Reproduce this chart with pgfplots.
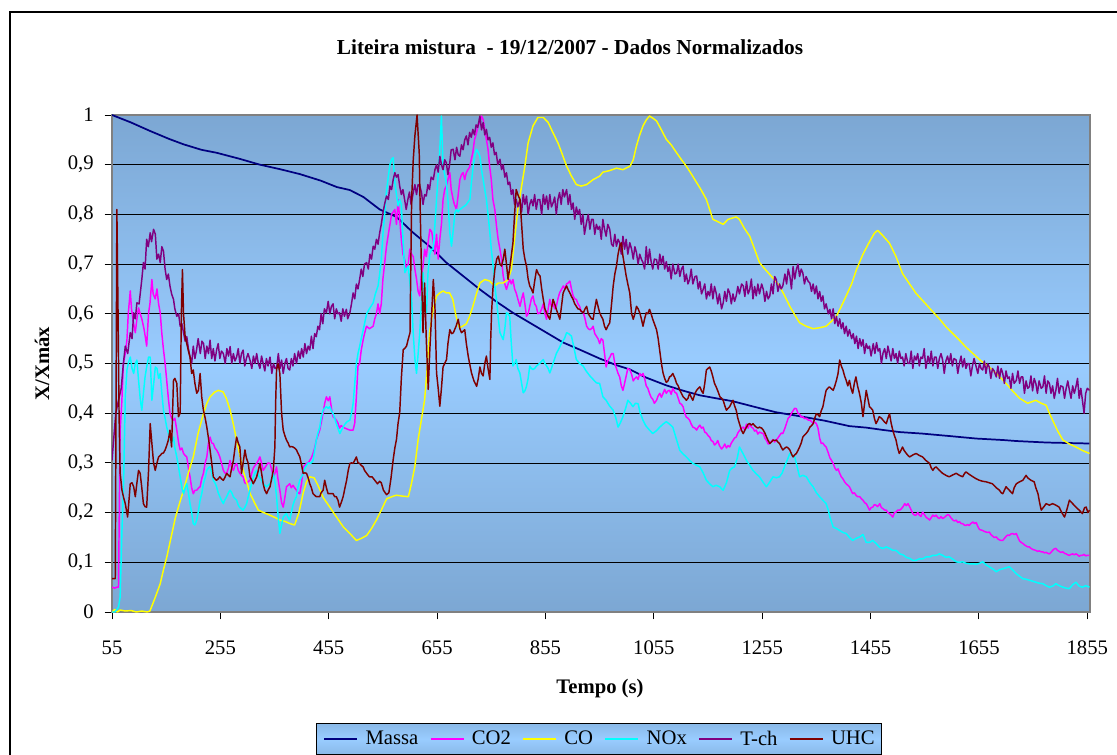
\documentclass[border=0pt]{standalone}
\usepackage{fontspec}
\setmainfont{Liberation Serif}
\usepackage{pgfplots}
\pgfplotsset{compat=1.18}

\definecolor{cMassa}{RGB}{0,0,128}
\definecolor{cCO2}{RGB}{255,0,255}
\definecolor{cCO}{RGB}{255,255,0}
\definecolor{cNOx}{RGB}{0,255,255}
\definecolor{cTch}{RGB}{128,0,128}
\definecolor{cUHC}{RGB}{128,0,0}
\definecolor{bgdark}{RGB}{124,167,211}
\definecolor{bglight}{RGB}{153,204,255}
\definecolor{lgdark}{RGB}{138,185,232}

\begin{document}
\begin{tikzpicture}
\useasboundingbox (0,0) rectangle (837.75pt,-566.25pt);
\begin{axis}[
  at={(84pt,-459pt)}, anchor=south west,
  scale only axis, width=733.5pt, height=372.75pt,
  xmin=55, xmax=1860, ymin=0, ymax=1,
  xtick={55,255,455,655,855,1055,1255,1455,1655,1855},
  xticklabels={55,255,455,655,855,1055,1255,1455,1655,1855},
  ytick={0,0.1,0.2,0.3,0.4,0.5,0.6,0.7,0.8,0.9,1},
  yticklabels={0,{0,1},{0,2},{0,3},{0,4},{0,5},{0,6},{0,7},{0,8},{0,9},1},
  /pgf/number format/assume math mode=true,
  ymajorgrids, major grid style={black, line width=0.6pt},
  axis background/.style={shade, top color=bgdark, bottom color=bgdark, middle color=bglight},
  axis line style={draw=gray, line width=1.5pt},
  tick align=outside, tick pos=left, major tick length=5.5pt,
  tick style={black, line width=0.7pt},
  tick label style={font=\fontsize{15.5}{18}\selectfont},
  xticklabel style={anchor=north, inner sep=0pt, yshift=-16pt},
  yticklabel style={anchor=east, inner sep=0pt, xshift=-8pt},
  title={Liteira mistura\ \ - 19/12/2007 - Dados Normalizados},
  title style={at={(0.4683,1.1066)}, anchor=base, font=\fontsize{16}{19}\selectfont\bfseries},
  xlabel={Tempo (s)},
  xlabel style={at={(0.499,-0.163)}, anchor=base, font=\fontsize{15.5}{18}\selectfont\bfseries},
  ylabel={X/Xmáx},
  ylabel style={at={(-0.0716,0.5)}, anchor=center, font=\fontsize{15.5}{18}\selectfont\bfseries},
  legend columns=6,
  legend style={at={(0.498,-0.2555)}, anchor=center, draw=black, line width=0.6pt,
    top color=lgdark, bottom color=lgdark, middle color=bglight,
    font=\fontsize{15.5}{18}\selectfont, inner xsep=5pt, inner ysep=4pt,
    nodes={inner xsep=0pt, inner ysep=1.5pt},
    /tikz/every even column/.append style={column sep=8.6pt},
    /tikz/every odd column/.append style={column sep=5.7pt}},
  legend image code/.code={\draw[#1, line width=1.1pt] (0pt,0pt) -- (24.75pt,0pt);},
  every axis plot/.append style={line width=1.1pt, line join=round},
]
% Massa
\addplot[cMassa, line width=1.3pt] coordinates {
(55,1.0)(90,0.985)(125,0.968)(160,0.952)(187,0.941)(220,0.93)(248,0.924)(290,0.912)(328,0.9)(365,0.891)
(402,0.881)(440,0.868)(470,0.855)(494,0.849)(519,0.835)(549,0.81)(580,0.795)(611,0.763)(642,0.735)(672,0.703)
(703,0.676)(734,0.649)(765,0.624)(795,0.602)(826,0.582)(857,0.562)(888,0.542)(918,0.528)(955,0.51)(985,0.497)
(1011,0.488)(1040,0.472)(1078,0.456)(1110,0.445)(1140,0.436)(1170,0.43)(1201,0.424)(1240,0.413)(1280,0.402)(1324,0.394)
(1370,0.385)(1416,0.374)(1447,0.371)(1480,0.366)(1509,0.362)(1550,0.359)(1601,0.354)(1650,0.349)(1700,0.346)(1724,0.344)
(1780,0.341)(1820,0.34)(1859,0.339)
};
\addlegendentry{Massa}
% CO2
\addplot[cCO2] coordinates {
(55,0.05)(60,0.048)(64,0.05)(67,0.05)(70,0.366)(73,0.42)(76,0.5)(79.5,0.52)(82.6,0.548)(85,0.6)(88.7,0.646)(91,0.61)(95,0.58)(98,0.562)(101,0.59)(104,0.612)(107,0.6)(110,0.59)(114,0.57)(117,0.55)
(119,0.535)(122.5,0.602)(125,0.62)(128.6,0.669)(131,0.64)(134.8,0.63)(138,0.65)(141,0.62)(144,0.602)(147,0.56)(150,0.528)(153,0.5)(156,0.466)(159,0.43)(162,0.40)(165,0.39)(168.5,0.386)(171,0.39)(174.6,0.366)(178,0.34)
(180.8,0.326)(184,0.33)(187,0.319)(190,0.315)(193,0.312)(196,0.29)(199,0.272)(202,0.25)(205,0.238)(208,0.245)(211.4,0.245)(215,0.25)(217.6,0.252)(221,0.27)(223.7,0.279)(227,0.3)(230,0.312)(233,0.34)(236,0.352)(239,0.34)
(242,0.339)(245,0.33)(248,0.326)(251,0.32)(254,0.312)(257,0.3)(260.5,0.285)(263,0.28)(266.7,0.279)(270,0.29)(272.8,0.305)(276,0.29)(279,0.285)(282,0.295)(285,0.299)(288,0.285)(291,0.279)(294,0.275)(297,0.272)(300,0.26)
(303.5,0.258)(306,0.262)(309.6,0.265)(313,0.28)(316,0.29)(319,0.295)(322,0.299)(325,0.305)(328,0.312)(331,0.3)(334,0.285)(337,0.29)(340,0.295)(343,0.3)(346.6,0.299)(350,0.285)(352.7,0.272)(356,0.28)(358.7,0.292)(361,0.27)
(364.8,0.245)(368,0.22)(371,0.211)(374,0.23)(377,0.252)(380,0.255)(383,0.258)(386,0.25)(389,0.255)(392,0.25)(395.5,0.245)(398,0.24)(401.6,0.238)(405,0.26)(407.8,0.292)(411,0.295)(414,0.299)(417,0.3)(420,0.305)(423,0.31)
(426,0.319)(429,0.33)(432,0.346)(435,0.355)(438.4,0.366)(441,0.38)(444.6,0.40)(447.6,0.42)(450.7,0.433)(454,0.425)(457,0.433)(460,0.41)(463,0.393)(466,0.39)(469,0.386)(472,0.38)(475,0.37)(478,0.375)(481.6,0.372)(485,0.37)
(489,0.368)(494,0.366)(500,0.366)(503,0.38)(506,0.433)(509,0.495)(512,0.5)(515,0.527)(518.6,0.548)(521,0.56)(524.7,0.575)(530,0.57)(537,0.575)(540,0.59)(543,0.6)(546,0.62)(549,0.6)(552,0.62)(555,0.67)(558,0.7)
(561.6,0.736)(565,0.76)(568,0.78)(571,0.8)(574,0.805)(577,0.81)(580,0.78)(583,0.83)(586,0.79)(589,0.75)(592,0.72)(595,0.71)(598.5,0.69)(601.7,0.7)(604.7,0.73)(608,0.72)(611,0.715)(614,0.69)(617,0.67)(620,0.645)
(623,0.636)(626,0.68)(629,0.695)(632,0.73)(635,0.715)(638,0.74)(641.6,0.77)(645,0.765)(648,0.745)(651,0.72)(654,0.76)(657,0.71)(660,0.75)(663,0.78)(666,0.83)(669,0.85)(672,0.857)(675,0.87)(678.5,0.884)(681,0.85)
(684.6,0.83)(687,0.82)(690.7,0.81)(694,0.84)(697,0.87)(700,0.88)(703,0.884)(706,0.87)(709,0.884)(712,0.89)(715,0.895)(718,0.91)(721,0.925)(724,0.95)(727.7,0.964)(731,0.98)(734,0.985)(737,0.998)(740,0.991)(743,0.971)
(746,0.951)(749,0.931)(752,0.897)(755,0.87)(758,0.83)(761.5,0.81)(764.6,0.777)(767.6,0.75)(771,0.73)(774,0.71)(777,0.676)(780,0.66)(783,0.649)(786,0.66)(789,0.669)(792,0.66)(795,0.669)(798,0.65)(801,0.642)(804,0.63)
(808,0.615)(811,0.63)(814,0.642)(817,0.62)(820,0.595)(823,0.6)(826,0.615)(829,0.63)(832,0.636)(835,0.62)(838,0.615)(841,0.6)(845,0.602)(848,0.61)(851,0.62)(854,0.6)(857,0.589)(860,0.61)(863,0.629)(866,0.615)
(869,0.62)(872,0.61)(875,0.615)(878,0.63)(881,0.642)(884,0.648)(888,0.656)(891,0.65)(894,0.66)(897,0.662)(900,0.666)(903,0.65)(906,0.636)(909,0.63)(912,0.629)(915,0.62)(918,0.615)(921,0.605)(925,0.602)(928,0.59)
(931,0.575)(934,0.57)(937,0.568)(940,0.57)(943,0.575)(946,0.56)(949,0.555)(952,0.55)
(955,0.54)(958,0.55)(961,0.547)(964,0.52)(967,0.493)(970,0.505)(974,0.513)(977,0.52)(980,0.52)(983,0.5)(986,0.49)(989,0.48)(992,0.473)(995,0.455)(998,0.446)(1001,0.46)(1004,0.475)(1007,0.49)(1011,0.487)(1014,0.478)
(1017,0.465)(1020,0.47)(1023,0.473)(1026,0.468)(1029,0.48)(1032,0.475)(1035,0.48)(1038,0.47)(1041,0.455)(1044,0.45)(1047,0.44)(1050,0.432)(1053,0.428)(1056,0.42)(1060,0.426)(1063,0.435)(1066,0.44)(1069,0.432)(1072,0.44)(1075,0.448)
(1078,0.44)(1081,0.445)(1084,0.446)(1087,0.438)(1090,0.45)(1094,0.442)(1097,0.44)(1100,0.43)(1103,0.42)(1106,0.418)(1109,0.413)(1112,0.40)(1115,0.392)(1118,0.39)(1121,0.386)(1124,0.378)(1127,0.372)(1131,0.37)(1134,0.366)(1137,0.372)
(1140,0.376)(1143,0.37)(1146,0.372)(1149,0.362)(1152,0.36)(1155,0.355)(1158,0.352)(1161,0.345)(1164,0.343)(1167,0.336)(1170,0.339)(1173,0.345)(1176,0.335)(1180,0.328)(1183,0.332)(1186,0.338)(1189,0.33)(1192,0.335)(1195,0.332)(1198,0.34)
(1201,0.345)(1204,0.35)(1207,0.352)(1210,0.36)(1213,0.365)(1217,0.37)(1220,0.372)(1223,0.366)(1226,0.378)(1229,0.37)(1232,0.379)(1235,0.372)(1238,0.37)(1241,0.364)(1244,0.366)(1247,0.358)(1250,0.362)(1254,0.36)(1257,0.359)(1260,0.35)
(1263,0.345)(1266,0.338)(1269,0.339)(1272,0.343)(1275,0.347)(1278,0.342)(1281,0.346)(1284,0.35)(1287,0.355)(1290,0.36)(1293,0.359)(1297,0.37)(1300,0.38)(1303,0.39)(1306,0.393)(1309,0.40)(1312,0.405)(1315,0.41)(1318,0.409)(1321,0.4)
(1324,0.398)(1327,0.392)(1330,0.393)(1333,0.389)(1336,0.39)(1340,0.386)(1343,0.386)(1346,0.383)(1349,0.38)(1352,0.382)(1355,0.379)(1358,0.37)(1361,0.35)(1364,0.339)(1367,0.34)(1370,0.335)(1373,0.332)(1377,0.32)(1380,0.31)(1383,0.305)
(1386,0.299)(1389,0.29)(1392,0.285)(1395,0.288)(1398,0.279)(1401,0.272)(1404,0.268)(1407,0.262)(1410,0.258)(1413,0.255)(1416,0.252)(1419,0.245)(1422,0.238)(1425,0.24)(1428,0.235)(1431,0.232)(1435,0.232)(1438,0.228)(1441,0.225)(1444,0.22)
(1447,0.218)(1450,0.212)(1453,0.205)(1456,0.21)(1459,0.211)(1462,0.216)(1465,0.215)(1468,0.212)(1472,0.218)(1475,0.21)(1478,0.208)(1481,0.205)(1484,0.205)(1487,0.2)(1490,0.198)(1493,0.195)(1496,0.191)(1499,0.2)(1502,0.201)(1505,0.205)
(1509,0.205)(1512,0.208)(1515,0.212)(1518,0.218)(1521,0.214)(1524,0.218)(1527,0.212)(1530,0.205)(1533,0.198)(1536,0.195)(1539,0.195)(1542,0.2)(1545,0.195)(1548,0.192)(1551,0.201)(1555,0.195)(1558,0.19)(1561,0.188)(1564,0.185)(1567,0.19)
(1570,0.195)(1573,0.192)(1576,0.195)(1579,0.19)(1582,0.188)(1585,0.192)(1588,0.188)(1591,0.19)(1594,0.193)(1597,0.196)(1600,0.195)(1603,0.19)(1607,0.185)(1610,0.183)(1613,0.185)(1616,0.18)(1619,0.182)(1622,0.178)(1625,0.178)(1628,0.175)
(1631,0.174)(1634,0.176)(1637,0.174)(1640,0.178)(1644,0.181)(1647,0.178)(1650,0.18)(1653,0.172)(1656,0.166)(1659,0.165)(1662,0.164)(1665,0.162)(1668,0.161)(1671,0.16)(1674,0.161)(1677,0.156)(1680,0.153)(1683,0.15)(1687,0.151)(1690,0.147)
(1693,0.145)(1696,0.144)(1699,0.144)(1702,0.148)(1705,0.152)(1708,0.155)(1711,0.154)(1714,0.157)(1717,0.158)(1720,0.156)(1724,0.158)(1727,0.15)(1730,0.143)(1733,0.14)(1736,0.138)(1739,0.135)(1742,0.133)(1745,0.131)(1748,0.131)(1751,0.128)
(1754,0.126)(1757,0.125)(1760,0.124)(1763,0.122)(1766,0.123)(1770,0.121)(1773,0.121)(1776,0.119)(1779,0.12)(1782,0.118)(1785,0.117)(1788,0.12)(1791,0.124)(1794,0.127)(1797,0.128)(1800,0.124)(1803,0.122)(1806,0.12)(1810,0.121)(1813,0.118)
(1816,0.117)(1819,0.115)(1822,0.114)(1825,0.116)(1828,0.117)(1831,0.115)(1834,0.117)(1837,0.115)(1840,0.112)(1843,0.114)(1846,0.114)(1849,0.116)(1852,0.113)(1855,0.114)(1859,0.114)
};
\addlegendentry{CO2}
% CO
\addplot[cCO] coordinates {
(55,0.0)(60,0.005)(65,0.0)(70,0.004)(80,0.002)(90,0.003)(100,0.0)(110,0.002)(120,0.0)(125,0.002)(135,0.03)(144,0.057)(150,0.085)(156,0.11)(164,0.15)(172,0.19)(180,0.22)(187,0.245)(196,0.28)(205,0.312)
(214,0.36)(224,0.40)(230,0.42)(236,0.433)(244,0.442)(251,0.446)(260,0.443)(266,0.43)(273,0.406)(279,0.378)(285,0.346)(291,0.315)(297,0.285)(304,0.26)(310,0.238)(318,0.22)(325,0.205)(335,0.2)(346,0.195)(356,0.19)
(365,0.185)(375,0.182)(383,0.178)(392,0.175)(400,0.2)(408,0.24)(414,0.262)(420,0.272)(428,0.27)(435,0.255)(445,0.23)(457,0.211)(470,0.19)(482,0.171)(494,0.158)(506,0.144)(515,0.148)(525,0.154)(534,0.168)(543,0.185)
(552,0.205)(562,0.228)(574,0.233)(580,0.235)(592,0.233)(602,0.232)(608,0.26)(614,0.293)(620,0.347)(626,0.387)(632,0.427)(636,0.481)(641,0.562)(648,0.61)(654,0.636)(660,0.642)(666,0.646)(672,0.642)(678,0.642)(684,0.629)
(690,0.595)(696,0.572)(702,0.575)(709,0.58)(715,0.595)(721,0.615)(728,0.642)(734,0.662)(743,0.669)(752,0.666)(761,0.656)(768,0.662)(777,0.662)(786,0.669)(792,0.689)(798,0.75)(804,0.81)(811,0.857)(817,0.897)(823,0.944)
(832,0.978)(841,0.995)(851,0.995)(860,0.985)(869,0.964)(878,0.944)(885,0.924)(894,0.897)(903,0.877)(912,0.86)(921,0.857)(931,0.86)(943,0.87)(955,0.877)(961,0.885)(973,0.888)(986,0.893)(998,0.89)(1011,0.897)(1017,0.91)
(1023,0.938)(1029,0.96)(1035,0.978)(1041,0.99)(1047,0.998)(1054,0.993)(1060,0.988)(1069,0.97)(1078,0.951)(1087,0.94)(1097,0.924)(1106,0.91)(1115,0.897)(1125,0.88)(1134,0.864)(1143,0.848)(1152,0.83)(1158,0.81)(1164,0.79)(1174,0.785)
(1183,0.78)(1192,0.79)(1201,0.793)(1207,0.795)(1213,0.79)(1222,0.772)(1232,0.756)(1241,0.73)(1250,0.703)(1260,0.69)(1269,0.679)(1278,0.668)(1287,0.656)(1297,0.635)(1306,0.615)(1315,0.598)(1324,0.582)(1336,0.575)(1349,0.57)(1361,0.572)
(1373,0.575)(1383,0.585)(1392,0.595)(1401,0.615)(1410,0.636)(1420,0.66)(1429,0.689)(1441,0.72)(1453,0.745)(1462,0.762)(1468,0.768)(1477,0.758)(1490,0.742)(1502,0.715)(1514,0.681)(1527,0.66)(1539,0.641)(1555,0.622)(1570,0.604)(1582,0.59)
(1594,0.574)(1607,0.56)(1619,0.547)(1631,0.533)(1644,0.52)(1659,0.505)(1674,0.493)(1690,0.477)(1705,0.46)(1717,0.445)(1730,0.43)(1745,0.42)(1760,0.426)(1770,0.42)(1779,0.416)(1785,0.4)(1791,0.386)(1800,0.365)(1810,0.346)(1822,0.338)
(1834,0.332)(1846,0.325)(1859,0.319)
};
\addlegendentry{CO}
% NOx
\addplot[cNOx] coordinates {
(55,0.0)(60,0.0)(64,0.005)(67,0.01)(70,0.03)(73.4,0.164)(76.5,0.265)(79.5,0.433)(82.6,0.487)(85,0.5)(88.7,0.513)(92,0.49)(95,0.48)(98,0.5)(101,0.507)(104,0.466)(107,0.43)(110,0.406)(113,0.44)(116,0.473)
(119,0.493)(122.5,0.513)(125.5,0.513)(128.6,0.426)(132,0.46)(135,0.493)(138,0.49)(141,0.47)(144,0.48)(147,0.44)(150,0.406)(153,0.39)(156,0.372)(159,0.36)(162,0.346)(165,0.34)(168.5,0.352)(171,0.33)(174.6,0.312)(178,0.29)
(180.8,0.272)(184,0.25)(187,0.238)(190,0.25)(193,0.258)(196,0.24)(199,0.218)(202,0.2)(205,0.178)(208,0.175)(211.4,0.185)(214,0.2)(217.6,0.225)(221,0.24)(223.7,0.258)(227,0.27)(230,0.285)(233,0.29)(236,0.292)(239,0.28)
(242,0.265)(245,0.26)(248,0.252)(251,0.24)(254,0.232)(257,0.225)(260.5,0.218)(263,0.225)(266.7,0.232)(270,0.24)(272.8,0.245)(276,0.24)(279,0.232)(282,0.228)(285,0.225)(288,0.215)(291,0.21)(294,0.208)(297,0.205)(300,0.21)
(303.5,0.218)(306,0.23)(309.6,0.245)(313,0.26)(316,0.272)(319,0.28)(322,0.285)(325,0.275)(328,0.27)(331,0.265)(334,0.258)(337,0.255)(340.4,0.252)(343,0.255)(346.6,0.258)(350,0.265)(352.7,0.279)(356,0.26)(358.7,0.232)(361,0.2)
(364.8,0.158)(368,0.175)(371,0.191)(374,0.195)(377,0.198)(380,0.19)(383,0.185)(386,0.2)(389,0.215)(392,0.225)(395.5,0.232)(398,0.25)(401.6,0.265)(405,0.272)(407.8,0.279)(411,0.29)(414,0.295)(417,0.3)(420,0.299)(423,0.3)
(426,0.305)(429,0.325)(432,0.346)(435,0.36)(438.4,0.372)(441,0.39)(444.6,0.406)(447.6,0.41)(450.7,0.413)(454,0.41)(457,0.413)(460,0.405)(463,0.399)(466,0.39)(469,0.379)(472,0.37)(475.5,0.359)(478,0.365)(481.6,0.372)(485,0.378)
(489,0.383)(494,0.386)(497,0.40)(500,0.419)(503,0.46)(506,0.5)(509,0.52)(512,0.534)(515,0.55)(518.5,0.567)(521,0.58)(525,0.6)(530,0.61)(537,0.622)(541,0.64)(546,0.656)(549,0.68)(552,0.709)(555,0.76)(558,0.797)
(561,0.84)(565,0.877)(568,0.9)(571,0.911)(574,0.914)(577,0.864)(580,0.84)(583,0.817)(586,0.83)(589,0.82)(592,0.75)(595.5,0.683)(598.6,0.69)(601.7,0.696)(605,0.66)(608,0.629)(611,0.56)(614,0.51)(617,0.48)(620,0.52)
(623,0.562)(626,0.62)(629,0.683)(632,0.64)(635.5,0.602)(638,0.68)(641.6,0.72)(645,0.73)(648,0.73)(651,0.78)(654,0.83)(657,0.88)(660,0.931)(663,0.998)(666,0.897)(669,0.88)(672,0.864)(675,0.83)(678.5,0.763)(681.6,0.736)
(685,0.77)(687.8,0.803)(691,0.81)(694,0.805)(697,0.81)(700,0.812)(703,0.815)(706,0.817)(709,0.82)(712,0.825)(715.5,0.83)(718,0.86)(721.6,0.897)(725,0.92)(728,0.931)(731,0.925)(734,0.917)(737,0.89)(740,0.87)(743,0.85)
(746,0.83)(749,0.8)(752.4,0.763)(755,0.73)(758.5,0.696)(761,0.66)(764.6,0.629)(768,0.59)(771,0.562)(774,0.555)(777,0.548)(780,0.57)(783,0.602)(786,0.6)(789,0.595)(792,0.54)(795,0.495)(798,0.5)(801,0.508)(804,0.49)
(807.7,0.481)(811,0.46)(814,0.441)(817,0.445)(820,0.454)(823,0.47)(826,0.495)(829,0.49)(832,0.488)(835,0.49)(838.5,0.495)(844,0.5)(851,0.508)(854,0.5)(857,0.495)(860,0.49)(863,0.481)(866,0.49)(869,0.5)(872,0.51)
(875.4,0.521)(880,0.53)(885,0.542)(890,0.55)(894,0.562)(898,0.56)(903,0.555)(907,0.535)(912,0.508)(918,0.5)(924.5,0.495)(930,0.485)(937,0.475)(943,0.468)(949,0.461)(955,0.46)(961,0.433)(967,0.426)(973,0.415)(980,0.406)
(985,0.39)(989,0.372)(993,0.38)(998,0.393)(1003,0.41)(1007,0.426)(1012,0.42)(1016.5,0.413)(1021,0.42)(1026,0.419)(1030,0.4)(1035,0.386)(1040,0.375)(1047,0.366)(1053,0.359)(1060,0.365)(1066,0.372)(1072,0.378)(1078,0.383)(1084,0.378)
(1090,0.372)(1096,0.35)(1103,0.325)(1109,0.318)(1115,0.312)(1121,0.305)(1127,0.299)(1134,0.295)(1140,0.292)(1146,0.28)(1152,0.265)(1158,0.258)(1164,0.252)(1170,0.255)(1176.6,0.252)(1183,0.245)(1189,0.26)(1195,0.285)(1200,0.29)(1204,0.292)
(1209,0.31)(1213,0.332)(1219,0.32)(1226,0.305)(1232,0.295)(1238,0.285)(1244,0.278)(1250,0.272)(1256,0.262)(1262.7,0.252)(1268,0.26)(1275,0.272)(1281,0.27)(1287,0.272)(1292,0.28)(1296,0.292)(1301,0.305)(1306,0.319)(1310,0.315)(1315,0.312)
(1320,0.29)(1324,0.272)(1330,0.275)(1336.5,0.272)(1343,0.26)(1349,0.252)(1355,0.24)(1361,0.232)(1367,0.225)(1373,0.218)(1377,0.205)(1380,0.191)(1386,0.171)(1392,0.168)(1398,0.164)(1404,0.16)(1410,0.158)(1416,0.15)(1422,0.144)(1428,0.148)
(1435,0.151)(1441,0.156)(1447,0.14)(1453,0.14)(1459,0.144)(1465,0.138)(1472,0.13)(1478,0.128)(1484,0.131)(1490,0.128)(1496,0.124)(1502,0.124)(1509,0.117)(1515,0.115)(1521,0.11)(1527,0.108)(1533,0.104)(1539,0.104)(1545,0.107)(1551,0.107)
(1558,0.111)(1564,0.111)(1570,0.114)(1576,0.114)(1582,0.117)(1588,0.114)(1594,0.11)(1600,0.111)(1607,0.106)(1613,0.101)(1619,0.1)(1625,0.101)(1631,0.098)(1637,0.097)(1644,0.097)(1650,0.096)(1656,0.098)(1662,0.101)(1668,0.095)(1674,0.091)
(1680,0.087)(1687,0.081)(1693,0.085)(1699,0.087)(1705,0.089)(1711,0.091)(1717,0.085)(1724,0.077)(1730,0.072)(1736,0.067)(1742,0.066)(1748,0.064)(1754,0.062)(1760,0.06)(1766,0.058)(1773,0.057)(1779,0.053)(1785,0.05)(1791,0.052)(1797,0.057)
(1803,0.053)(1810,0.05)(1816,0.048)(1822,0.047)(1828,0.055)(1834,0.06)(1840,0.052)(1846,0.05)(1852,0.053)(1859,0.05)
};
\addlegendentry{NOx}
% T-ch
\addplot[cTch] coordinates {
(55,0.305)(58,0.346)(62,0.40)(67,0.426)(72,0.45)(76,0.5)(79.5,0.535)(84,0.52)(88.7,0.562)(92,0.55)(95,0.602)(98,0.59)(101,0.622)(105,0.62)(110,0.669)(113,0.703)(116,0.69)(119,0.75)(122,0.735)(125.5,0.763)
(128,0.745)(131.7,0.77)(135,0.76)(137.8,0.71)(141,0.72)(144,0.703)(147,0.735)(150,0.726)(153,0.69)(156,0.669)(159,0.68)(162,0.656)(165,0.64)(168.5,0.629)(171,0.61)(174.6,0.595)(178,0.6)(180.8,0.575)(184,0.58)(187,0.562)
(190,0.545)(193,0.554)(196,0.53)(199,0.513)(202,0.5)(205,0.535)(208,0.51)(211,0.527)(214,0.55)(218,0.52)(221,0.545)(224,0.54)(227,0.51)(230,0.535)(233,0.52)(236,0.547)(239,0.51)(242,0.53)(245,0.505)(248,0.527)
(251,0.54)(254,0.51)(257,0.525)(260.5,0.52)(264,0.5)(267,0.53)(270,0.515)(273,0.534)(276,0.5)(279,0.52)(282,0.505)(285,0.513)(288,0.53)(291,0.5)(294,0.52)(297,0.527)(300,0.495)(303,0.51)(306,0.52)(309.6,0.507)
(313,0.49)(316,0.515)(319,0.5)(322,0.52)(325,0.5)(328,0.49)(331,0.515)(334,0.5)(337,0.485)(340,0.51)(343,0.495)(346.6,0.513)(350,0.48)(353,0.5)(356,0.49)(359,0.493)(362,0.52)(365,0.49)(368,0.507)(371,0.48)
(374,0.5)(377,0.51)(380,0.49)(383,0.487)(386,0.51)(389,0.495)(392,0.52)(395.5,0.5)(399,0.525)(402,0.51)(405,0.53)(408,0.513)(411,0.54)(414,0.52)(417,0.535)(420,0.527)(423,0.555)(426,0.53)(429,0.56)(432,0.554)
(435,0.575)(438,0.568)(441,0.6)(444,0.58)(447,0.61)(450.7,0.602)(454,0.625)(457,0.6)(460,0.615)(463,0.62)(466,0.59)(469,0.61)(472,0.6)(475,0.602)(478,0.585)(481,0.61)(484,0.595)(487.5,0.609)(490,0.59)(494,0.602)
(497,0.62)(500,0.642)(503,0.63)(506,0.66)(509,0.65)(512,0.669)(515,0.69)(518,0.675)(521,0.7)(525,0.703)(528,0.69)(531,0.72)(534,0.71)(537,0.736)(540,0.73)(543,0.75)(546,0.74)(549,0.763)(552,0.78)(555,0.803)
(558,0.82)(561.6,0.837)(565,0.83)(568,0.857)(571,0.85)(574,0.87)(577,0.884)(580,0.875)(583,0.88)(586,0.857)(589,0.84)(592,0.85)(595,0.83)(598,0.81)(601,0.83)(604,0.845)(607,0.82)(611,0.844)(614,0.86)(617,0.84)
(620,0.86)(623,0.857)(626,0.845)(629,0.82)(632,0.84)(635,0.837)(638,0.86)(641,0.85)(644,0.875)(648,0.87)(651,0.89)(654,0.9)(657,0.885)(660,0.917)(663,0.9)(666,0.89)(669,0.91)(672,0.904)(675,0.88)(678,0.9)
(681,0.93)(684.6,0.931)(688,0.91)(691,0.935)(694,0.92)(697,0.917)(700,0.94)(703,0.93)(706,0.95)(709,0.958)(712,0.94)(715,0.965)(718,0.955)(721,0.971)(724,0.96)(727,0.98)(730,0.975)(734,0.998)(737,0.97)(740,0.985)
(743,0.96)(746,0.971)(749,0.95)(752,0.955)(755,0.935)(758,0.944)(761,0.92)(764,0.925)(767,0.9)(771,0.911)(774,0.89)(777,0.9)(780,0.875)(783,0.884)(786,0.86)(789,0.865)(792,0.84)(795,0.85)(798,0.82)(801,0.83)
(804,0.815)(807.6,0.83)(811,0.805)(814,0.84)(817,0.82)(820,0.837)(823,0.8)(826,0.82)(829,0.83)(832,0.817)(835,0.84)(838,0.81)(841,0.83)(844.5,0.83)(848,0.8)(851,0.84)(854,0.82)(857,0.837)(860,0.81)(863,0.84)
(866,0.815)(869,0.823)(872,0.835)(875,0.8)(878,0.83)(881,0.844)(884,0.82)(887,0.85)(890,0.835)(894,0.85)(897,0.82)(900,0.84)(903,0.81)(906,0.823)(909,0.79)(912,0.815)(915,0.8)(918,0.81)(921,0.78)(924,0.8)
(927,0.76)(930.6,0.783)(934,0.8)(937,0.77)(940,0.79)(943,0.79)(946,0.76)(949,0.78)(952,0.77)(955,0.776)(958,0.75)(961,0.79)(964,0.77)(967,0.756)(970,0.78)(973.6,0.77)(977,0.74)(980,0.736)(983,0.76)(986,0.736)
(989,0.75)(992,0.743)(995,0.72)(998,0.756)(1001,0.73)(1004,0.75)(1007,0.72)(1010.6,0.743)(1014,0.73)(1017,0.71)(1020,0.735)(1023,0.723)(1026,0.7)(1029,0.72)(1032,0.71)(1035,0.703)(1038,0.69)(1041,0.735)(1044,0.7)(1047,0.73)
(1050,0.705)(1053,0.69)(1056,0.71)(1060,0.709)(1063,0.69)(1066,0.72)(1069,0.7)(1072,0.716)(1075,0.69)(1078,0.705)(1081,0.685)(1084,0.696)(1087,0.67)(1090,0.7)(1094,0.68)(1097,0.682)(1100,0.7)(1103,0.675)(1106,0.69)(1109,0.696)
(1112,0.665)(1115,0.68)(1118,0.66)(1121,0.669)(1124,0.69)(1127,0.66)(1131,0.675)(1134,0.676)(1137,0.65)(1140,0.665)(1143,0.64)(1146,0.649)(1149,0.66)(1152,0.63)(1155,0.645)(1158,0.636)(1161,0.66)(1164,0.63)(1167,0.655)(1170,0.642)
(1173,0.62)(1176,0.64)(1180,0.61)(1183,0.622)(1186,0.645)(1189,0.625)(1192,0.65)(1195,0.642)(1198,0.62)(1201,0.64)(1204,0.625)(1207,0.636)(1210,0.655)(1213,0.64)(1217,0.66)(1220,0.656)(1223,0.635)(1226,0.665)(1229,0.64)(1232,0.649)
(1235,0.67)(1238,0.63)(1241,0.655)(1244,0.636)(1247,0.66)(1250,0.64)(1254,0.66)(1257,0.649)(1260,0.625)(1263,0.645)(1266,0.63)(1269,0.636)(1272,0.66)(1275,0.64)(1278,0.675)(1281,0.669)(1284,0.645)(1287,0.66)(1290,0.65)(1293,0.656)
(1297,0.68)(1300,0.66)(1303,0.69)(1306,0.676)(1309,0.65)(1312,0.695)(1315,0.67)(1318,0.689)(1321,0.7)(1324,0.675)(1327,0.69)(1330,0.682)(1333,0.66)(1336,0.675)(1340,0.665)(1343,0.662)(1346,0.645)(1349,0.66)(1352,0.64)(1355,0.656)
(1358,0.63)(1361,0.645)(1364,0.625)(1367,0.636)(1370,0.61)(1373,0.62)(1377,0.6)(1380,0.609)(1383,0.59)(1386,0.61)(1389,0.58)(1392,0.595)(1395,0.575)(1398,0.59)(1401,0.57)(1404,0.582)(1407,0.56)(1410,0.575)(1413,0.555)(1416,0.568)
(1420,0.55)(1423,0.56)(1426,0.54)(1429,0.555)(1432,0.53)(1435,0.55)(1438,0.535)(1441,0.548)(1444,0.52)(1447,0.54)(1450,0.53)(1453,0.535)(1456,0.515)(1460,0.54)(1463,0.52)(1466,0.542)(1469,0.525)(1472,0.53)(1475,0.5)(1478,0.521)
(1481,0.53)(1484,0.51)(1487,0.535)(1490,0.52)(1493,0.505)(1496,0.53)(1499,0.51)(1502,0.52)(1505,0.5)(1508,0.525)(1511,0.51)(1514,0.513)(1517,0.495)(1520,0.52)(1524,0.5)(1527,0.5)(1530,0.525)(1533,0.49)(1536,0.515)(1539,0.507)
(1542,0.52)(1545,0.495)(1548,0.513)(1551,0.51)(1554,0.53)(1557,0.49)(1561,0.515)(1564,0.5)(1567,0.525)(1570,0.495)(1573,0.513)(1576,0.513)(1579,0.49)(1582,0.51)(1585,0.52)(1588,0.507)(1591,0.48)(1594,0.505)(1597,0.515)(1600,0.5)
(1603,0.52)(1606,0.495)(1609,0.51)(1613,0.507)(1616,0.48)(1619,0.5)(1622,0.515)(1625,0.493)(1628,0.51)(1631,0.49)(1634,0.5)(1637,0.5)(1640,0.475)(1643,0.495)(1646,0.51)(1650,0.493)(1653,0.48)(1656,0.5)(1659,0.49)(1662,0.487)
(1665,0.505)(1668,0.48)(1671,0.5)(1674,0.493)(1677,0.47)(1680,0.49)(1683,0.485)(1687,0.473)(1690,0.495)(1693,0.47)(1696,0.49)(1699,0.48)(1702,0.46)(1705,0.485)(1708,0.47)(1711,0.473)(1714,0.45)(1717,0.48)(1720,0.46)(1724,0.466)
(1727,0.485)(1730,0.46)(1733,0.473)(1736,0.473)(1739,0.44)(1742,0.465)(1745,0.45)(1748,0.453)(1751,0.475)(1754,0.445)(1757,0.47)(1760,0.46)(1763,0.44)(1766,0.465)(1770,0.45)(1773,0.453)(1776,0.475)(1779,0.44)(1782,0.465)(1785,0.46)
(1788,0.44)(1791,0.455)(1794,0.43)(1797,0.446)(1800,0.47)(1803,0.44)(1806,0.455)(1810,0.453)(1813,0.43)(1816,0.45)(1819,0.465)(1822,0.446)(1825,0.43)(1828,0.455)(1831,0.44)(1834,0.453)(1837,0.47)(1840,0.43)(1843,0.45)(1846,0.426)
(1849,0.40)(1852,0.44)(1855,0.45)(1859,0.446)
};
\addlegendentry{T-ch}
% UHC
\addplot[cUHC] coordinates {
(55,0.067)(58,0.067)(61,0.067)(62,0.3)(64,0.81)(66,0.62)(68,0.4)(70,0.28)(73.4,0.245)(76.5,0.23)(79.5,0.218)(83.8,0.191)(86,0.22)(88.7,0.258)(92,0.26)(95,0.252)(98,0.232)(101,0.26)(104,0.285)(107,0.279)
(110,0.25)(113,0.218)(116,0.212)(119,0.211)(122.5,0.285)(125.5,0.379)(128.6,0.339)(131.7,0.3)(134.8,0.285)(138,0.3)(141,0.312)(144,0.315)(147,0.319)(150,0.32)(153,0.326)(156,0.335)(159,0.346)(162,0.366)(165,0.332)(168.5,0.466)
(171,0.47)(174.6,0.46)(177.7,0.393)(180.8,0.4)(183,0.6)(185,0.689)(187,0.6)(190,0.554)(193,0.54)(196,0.525)(199,0.513)(202,0.48)(205,0.487)(208,0.46)(211.4,0.44)(214.5,0.446)(217.6,0.48)(220.6,0.433)(223.7,0.406)(227,0.39)
(230,0.372)(233,0.35)(236,0.326)(239,0.3)(242,0.272)(245,0.268)(248,0.265)(251,0.268)(254,0.272)(257,0.268)(260.5,0.265)(263,0.27)(266.7,0.279)(270,0.275)(272.8,0.272)(276,0.29)(279,0.305)(282,0.33)(285,0.352)(288,0.34)
(291,0.332)(294,0.279)(297,0.3)(300.4,0.326)(303,0.31)(306.5,0.299)(309.6,0.272)(313,0.265)(315.7,0.258)(319,0.265)(322,0.272)(325,0.285)(328,0.299)(331,0.28)(334,0.258)(337,0.245)(340.4,0.238)(343,0.245)(346.6,0.252)(350,0.27)
(352.7,0.285)(355.6,0.332)(357,0.42)(358.7,0.487)(361.7,0.5)(364.8,0.48)(368,0.4)(371,0.366)(374,0.355)(377,0.346)(380,0.34)(383,0.332)(386,0.333)(389,0.332)(392,0.33)(395.5,0.326)(398,0.32)(401.6,0.312)(405,0.295)(407.8,0.279)
(411,0.28)(414,0.279)(417,0.27)(420,0.258)(423,0.25)(426,0.238)(429,0.235)(432,0.232)(435,0.232)(438.4,0.232)(441,0.24)(444.6,0.245)(447.6,0.265)(450.7,0.25)(453.8,0.238)(457,0.238)(460,0.238)(463,0.238)(466,0.232)(469,0.232)
(472,0.225)(475,0.211)(478,0.22)(481.6,0.232)(485,0.25)(488,0.265)(491,0.285)(494,0.299)(497,0.3)(500,0.299)(503,0.305)(506,0.312)(509,0.30)(512,0.299)(515,0.295)(518.5,0.292)(521,0.285)(525,0.279)(530,0.272)(535,0.272)
(540,0.265)(545,0.258)(549,0.263)(552,0.26)(556,0.245)(561.7,0.236)(566,0.24)(570,0.27)(574,0.307)(577,0.33)(580,0.347)(583,0.38)(586,0.401)(589,0.47)(592.5,0.528)(595,0.53)(598.6,0.535)(602,0.55)(605,0.562)(608,0.83)
(611,0.91)(614,0.958)(618,1.0)(622,0.924)(624,0.8)(626,0.696)(629,0.562)(632,0.662)(635,0.55)(638.6,0.448)(641.6,0.528)(645,0.6)(648,0.669)(651,0.615)(654,0.481)(657,0.45)(660,0.414)(663,0.45)(666,0.493)(669,0.5)
(672.4,0.508)(675,0.54)(678.5,0.568)(682,0.56)(685,0.562)(690,0.575)(694,0.589)(697,0.57)(700,0.562)(703,0.565)(706,0.568)(709,0.54)(712.4,0.515)(715,0.5)(718.5,0.481)(723,0.465)(728,0.454)(731,0.47)(734,0.493)(737,0.48)
(740,0.475)(743,0.5)(746,0.515)(749,0.49)(752.4,0.468)(754,0.55)(755.5,0.602)(758,0.65)(761.5,0.689)(765,0.71)(768,0.716)(771,0.7)(774,0.696)(777,0.71)(780,0.73)(783,0.7)(786,0.669)(790,0.7)(795,0.743)(798,0.8)
(801,0.85)(804,0.84)(808,0.83)(811,0.78)(814,0.73)(817,0.71)(820,0.696)(823,0.67)(826,0.656)(829,0.65)(832,0.642)(835,0.665)(838.5,0.689)(842,0.68)(845,0.676)(848,0.65)(851,0.629)(854,0.61)(857,0.602)(860,0.595)
(863,0.589)(866,0.61)(869,0.629)(872,0.62)(875,0.609)(878,0.6)(881.5,0.589)(884,0.61)(887.6,0.642)(891,0.65)(894,0.656)(897,0.648)(900,0.642)(903,0.635)(906,0.629)(909,0.62)(912,0.615)(915,0.61)(918.4,0.609)(921,0.605)
(925,0.602)(928,0.61)(931,0.615)(934,0.6)(937,0.595)(940,0.59)(943,0.589)(946,0.61)(949,0.629)(952,0.615)(955,0.602)(958,0.595)(961,0.589)(964,0.575)(967,0.568)(970,0.575)(973.6,0.582)(977,0.62)(980,0.656)(983,0.68)
(986,0.696)(989,0.72)(992,0.736)(995,0.743)(998,0.716)(1001,0.696)(1004,0.676)(1007,0.66)(1010.6,0.642)(1014,0.6)(1017,0.589)(1020,0.6)(1023,0.615)(1026,0.61)(1029,0.602)(1032,0.59)(1035,0.575)(1038,0.59)(1041,0.602)(1044,0.6)
(1047,0.609)(1050,0.6)(1053,0.589)(1056,0.58)(1060,0.568)(1063,0.55)(1066,0.525)(1069,0.5)(1072,0.481)(1075,0.47)(1078,0.462)(1081,0.465)(1084,0.473)(1087,0.475)(1090,0.48)(1094,0.47)(1097,0.46)(1100,0.455)(1103,0.446)(1106,0.44)
(1109,0.433)(1112,0.43)(1115,0.426)(1118,0.43)(1121,0.44)(1124,0.432)(1127,0.426)(1131,0.44)(1134,0.446)(1137,0.45)(1140,0.453)(1143,0.445)(1146,0.44)(1149,0.46)(1152,0.487)(1155,0.49)(1158,0.493)(1161,0.485)(1164,0.473)(1167,0.46)
(1170,0.453)(1173,0.445)(1177,0.433)(1180,0.43)(1183,0.426)(1186,0.415)(1189,0.406)(1192,0.41)(1195,0.413)(1198,0.42)(1201,0.426)(1204,0.415)(1207,0.406)(1210,0.39)(1213,0.379)(1217,0.365)(1220,0.359)(1223,0.366)(1226,0.372)(1229,0.378)
(1232,0.379)(1235,0.376)(1238,0.379)(1241,0.375)(1244,0.372)(1247,0.37)(1250,0.372)(1254,0.37)(1257,0.366)(1260,0.36)(1263,0.352)(1266,0.345)(1269,0.339)(1272,0.342)(1275,0.346)(1278,0.345)(1281,0.346)(1284,0.342)(1287,0.339)(1290,0.332)
(1293,0.326)(1297,0.33)(1300,0.332)(1303,0.33)(1306,0.326)(1309,0.318)(1312,0.312)(1315,0.316)(1318,0.319)(1321,0.325)(1324,0.332)(1327,0.34)(1330,0.352)(1333,0.356)(1336,0.359)(1340,0.365)(1343,0.372)(1346,0.375)(1349,0.379)(1352,0.39)
(1355,0.399)(1358,0.397)(1361,0.393)(1364,0.405)(1367,0.413)(1370,0.43)(1373,0.446)(1376,0.45)(1379,0.453)(1382,0.45)(1386,0.446)(1389,0.455)(1392,0.466)(1395,0.48)(1398,0.507)(1401,0.495)(1404,0.487)(1407,0.475)(1410,0.466)(1413,0.455)
(1416,0.466)(1419,0.45)(1422,0.44)(1425,0.46)(1428,0.473)(1431,0.455)(1434.5,0.44)(1438,0.42)(1441,0.393)(1444,0.42)(1447,0.446)(1450,0.43)(1453,0.413)(1456,0.41)(1459,0.406)(1462,0.39)(1465,0.379)(1468,0.385)(1471,0.393)(1475,0.39)
(1478,0.386)(1481,0.382)(1484,0.379)(1487,0.39)(1490,0.399)(1493,0.38)(1496,0.366)(1499,0.355)(1502,0.346)(1505,0.33)(1508,0.319)(1511,0.325)(1514,0.332)(1517,0.325)(1521,0.319)(1524,0.315)(1527,0.312)(1533,0.316)(1539,0.319)(1545,0.315)
(1551,0.312)(1557,0.305)(1564,0.299)(1567,0.29)(1570,0.285)(1573,0.29)(1576,0.292)(1582,0.285)(1588,0.279)(1594,0.275)(1600,0.272)(1607,0.276)(1613,0.279)(1619,0.275)(1625,0.272)(1628,0.278)(1631,0.282)(1637,0.277)(1644,0.272)(1650,0.268)
(1656,0.265)(1662,0.263)(1668,0.262)(1674,0.26)(1680,0.258)(1687,0.25)(1693,0.245)(1696,0.24)(1699,0.238)(1702,0.245)(1705,0.252)(1711,0.245)(1717,0.238)(1720,0.25)(1724,0.258)(1730,0.262)(1736,0.265)(1742,0.275)(1745,0.27)(1751,0.265)
(1757,0.262)(1760,0.25)(1764,0.238)(1767,0.22)(1770,0.205)(1775,0.212)(1779,0.218)(1785,0.215)(1791,0.218)(1797,0.215)(1803,0.211)(1808,0.2)(1813,0.191)(1817,0.205)(1822,0.225)(1828,0.218)(1834,0.211)(1840,0.205)(1846,0.198)(1850,0.21)
(1853,0.211)(1856,0.2)(1859,0.205)
};
\addlegendentry{UHC}
\end{axis}
\draw[line width=1.4pt] (7.5pt,-600pt) -- (7.5pt,-9pt) -- (900pt,-9pt);
\end{tikzpicture}
\end{document}
